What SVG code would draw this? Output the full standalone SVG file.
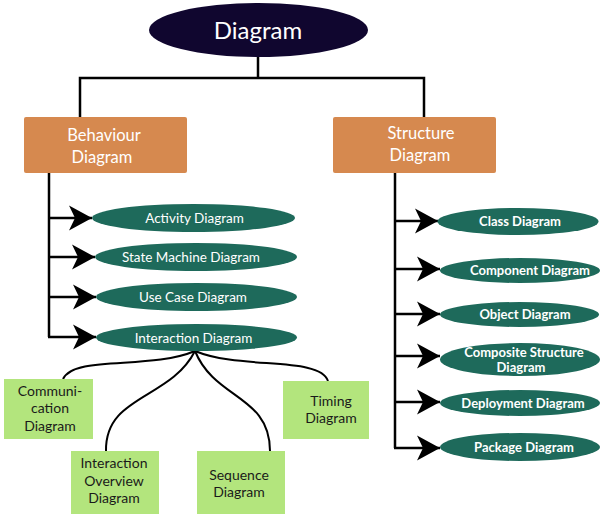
<svg xmlns="http://www.w3.org/2000/svg" width="600" height="514" viewBox="0 0 600 514">
<style>
.root{fill:#10062f}
.cat{fill:#d6894f}
.bh{fill:#1e6a5b}
.leaf{fill:#b3e57d}
.ln{fill:none;stroke:#000;stroke-width:2.5}
.cv{fill:none;stroke:#000;stroke-width:2}
text{font-family:Lato,"Open Sans","Liberation Sans",sans-serif;text-anchor:middle}
.t1{fill:#fff;font-size:24px}
.t2{fill:#fff;font-size:16.5px}
.t3{fill:#fff;font-size:13.5px}
.t4{fill:#fff;font-size:13px;font-weight:bold}
.t5{fill:#1a1a1a;font-size:14px}
</style>
<defs>
<marker id="ah" viewBox="-24 -13 25 26" markerWidth="25" markerHeight="26" refX="0" refY="0" orient="auto" markerUnits="userSpaceOnUse">
<path d="M0,0 L-23,-12.5 L-17,0 L-23,12.5 Z" fill="#000"/>
</marker>
</defs>
<g id="connectors">
<path class="ln" d="M258,56 V78"/>
<path class="ln" d="M80,117 V78 H424 V117"/>
<path class="ln" d="M49,173 V337"/>
<path class="ln" d="M48,218 H92" marker-end="url(#ah)"/>
<path class="ln" d="M48,257 H95" marker-end="url(#ah)"/>
<path class="ln" d="M48,297 H96" marker-end="url(#ah)"/>
<path class="ln" d="M48,337 H96" marker-end="url(#ah)"/>
<path class="ln" d="M395,173 V448"/>
<path class="ln" d="M394,221 H438" marker-end="url(#ah)"/>
<path class="ln" d="M394,269 H440" marker-end="url(#ah)"/>
<path class="ln" d="M394,314 H440" marker-end="url(#ah)"/>
<path class="ln" d="M394,356 H440" marker-end="url(#ah)"/>
<path class="ln" d="M394,402 H440" marker-end="url(#ah)"/>
<path class="ln" d="M394,448 H440" marker-end="url(#ah)"/>
<path class="cv" d="M195,351 C150,370 75,355 63,379"/>
<path class="cv" d="M195,351 C170,400 105,395 106,451"/>
<path class="cv" d="M195,351 C215,400 270,395 270,451"/>
<path class="cv" d="M195,351 C240,370 320,356 328,381"/>
</g>
<g id="diagram">
<ellipse class="root" cx="258.5" cy="30" rx="109.5" ry="27"/>
<text class="t1" x="258" y="39">Diagram</text>
</g>
<g id="behaviour">
<rect class="cat" x="24" y="117" width="163" height="56" rx="2"/>
<text class="t2" x="104" y="141">Behaviour</text>
<text class="t2" x="102" y="163">Diagram</text>
</g>
<g id="structure">
<rect class="cat" x="333" y="117" width="163" height="56" rx="2"/>
<text class="t2" x="421" y="139">Structure</text>
<text class="t2" x="420" y="161">Diagram</text>
</g>
<g id="activity">
<ellipse class="bh" cx="193.5" cy="218" rx="101.5" ry="14"/>
<text class="t3" x="194.5" y="223">Activity Diagram</text>
</g>
<g id="statemachine">
<ellipse class="bh" cx="196" cy="257" rx="101" ry="14"/>
<text class="t3" x="191" y="262">State Machine Diagram</text>
</g>
<g id="usecase">
<ellipse class="bh" cx="196.5" cy="297" rx="100.5" ry="14"/>
<text class="t3" x="193" y="302">Use Case Diagram</text>
</g>
<g id="interaction">
<ellipse class="bh" cx="196.5" cy="337.5" rx="100.5" ry="13.5"/>
<text class="t3" x="193.5" y="342.5">Interaction Diagram</text>
</g>
<g id="class">
<ellipse class="bh" cx="518" cy="221.5" rx="80.5" ry="13.5"/>
<text class="t4" x="520" y="226">Class Diagram</text>
</g>
<g id="component">
<ellipse class="bh" cx="520" cy="270.5" rx="80" ry="12.5"/>
<text class="t4" x="530" y="275">Component Diagram</text>
</g>
<g id="object">
<ellipse class="bh" cx="519.5" cy="314.5" rx="79.5" ry="12.5"/>
<text class="t4" x="525" y="319">Object Diagram</text>
</g>
<g id="composite">
<ellipse class="bh" cx="520" cy="359.5" rx="80" ry="16.5"/>
<text class="t4" x="524" y="357">Composite Structure</text>
<text class="t4" x="521" y="372">Diagram</text>
</g>
<g id="deployment">
<ellipse class="bh" cx="520" cy="403" rx="80" ry="13"/>
<text class="t4" x="523" y="407.5">Deployment Diagram</text>
</g>
<g id="package">
<ellipse class="bh" cx="520" cy="447" rx="80" ry="14"/>
<text class="t4" x="524" y="451.5">Package Diagram</text>
</g>
<g id="communication">
<rect class="leaf" x="4" y="379" width="89" height="60"/>
<text class="t5" x="50" y="396">Communi-</text>
<text class="t5" x="50" y="413">cation</text>
<text class="t5" x="50" y="431">Diagram</text>
</g>
<g id="interactionoverview">
<rect class="leaf" x="71" y="451" width="88" height="70"/>
<text class="t5" x="114" y="468">Interaction</text>
<text class="t5" x="114" y="486">Overview</text>
<text class="t5" x="114" y="503">Diagram</text>
</g>
<g id="sequence">
<rect class="leaf" x="197" y="451" width="88" height="70"/>
<text class="t5" x="239" y="480">Sequence</text>
<text class="t5" x="239" y="497">Diagram</text>
</g>
<g id="timing">
<rect class="leaf" x="283" y="381" width="86" height="58"/>
<text class="t5" x="331" y="406">Timing</text>
<text class="t5" x="331" y="423">Diagram</text>
</g>
</svg>
